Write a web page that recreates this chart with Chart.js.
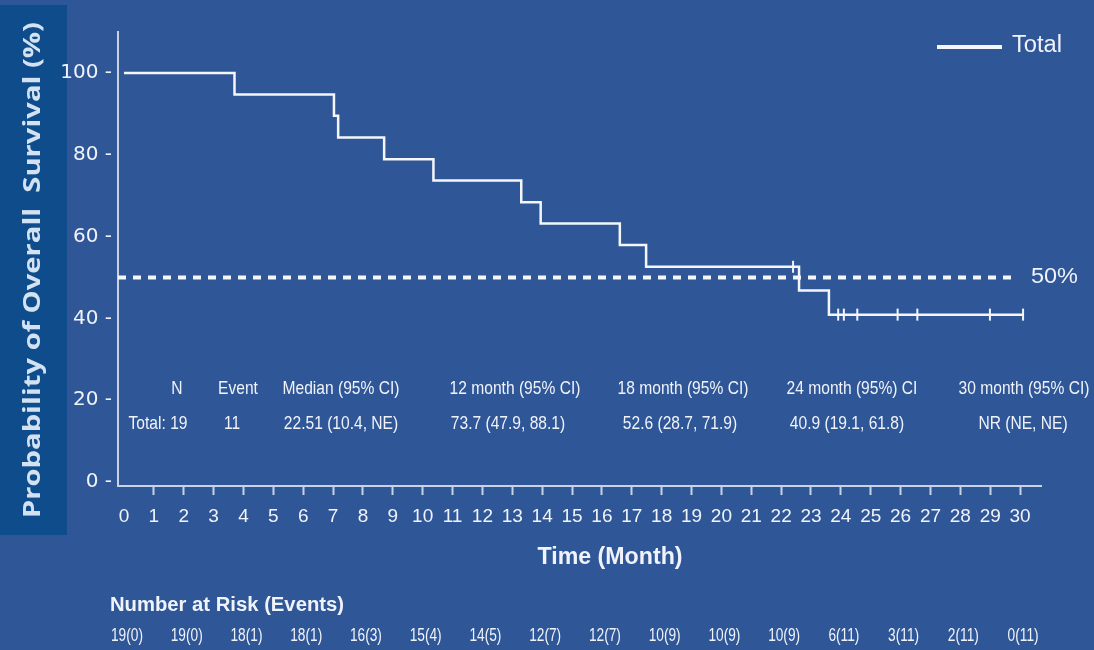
<!DOCTYPE html>
<html><head><meta charset="utf-8">
<script src="https://cdn.jsdelivr.net/npm/chart.js@4"></script>
<style>html,body{margin:0;padding:0;background:#2f5697;overflow:hidden}#wrap{width:1094px;height:650px;position:relative}</style>
</head><body><div id="wrap"><canvas id="c" width="1094" height="650"></canvas></div>
<script>
// ---- data ----
const eventTimes = [0, 3.7, 7.03, 7.17, 8.71, 10.36, 13.30, 13.95, 16.6, 17.48, 22.6, 23.6, 30.1];
const survival   = [100, 94.7, 89.5, 84.2, 78.9, 73.7, 68.4, 63.2, 57.9, 52.6, 46.8, 40.9, 40.9];
const censorTimes = [22.4, 23.91, 24.1, 24.55, 25.9, 26.56, 28.99, 30.1];
const censorSurv  = [52.6, 40.9, 40.9, 40.9, 40.9, 40.9, 40.9, 40.9];
const refLineX = [-0.2, 29.9];
const refLineY = [50, 50];
const refLabel = "50%";
const xTicks = [0,1,2,3,4,5,6,7,8,9,10,11,12,13,14,15,16,17,18,19,20,21,22,23,24,25,26,27,28,29,30];
const yTicks = [0,20,40,60,80,100];
const riskMonths = [0,2,4,6,8,10,12,14,16,18,20,22,24,26,28,30];
const riskLabels = ["19(0)","19(0)","18(1)","18(1)","16(3)","15(4)","14(5)","12(7)","12(7)","10(9)","10(9)","10(9)","6(11)","3(11)","2(11)","0(11)"];
const tableHeaders = ["N","Event","Median (95% CI)","12 month (95% CI)","18 month (95% CI)","24 month (95%) CI","30 month (95% CI)"];
const tableValues  = ["Total: 19","11","22.51 (10.4, NE)","73.7 (47.9, 88.1)","52.6 (28.7, 71.9)","40.9 (19.1, 61.8)","NR (NE, NE)"];
const seriesName = "Total";
const yTitle = "Probability of Overall  Survival (%)";
const xTitle = "Time (Month)";
const riskTitle = "Number at Risk (Events)";

// ---- styles / layout ----
const TXT = '#f0f3f9';
const AXIS = '#c9d3e6';
const LINE = '#f4f6fa';
const headerX = [177, 238, 341, 515, 683, 852, 1024];
const valueX  = [158, 232, 341, 508, 680, 847, 1023];

function fitScale(ctx, font, s, w){ ctx.save(); ctx.font = font; const m = ctx.measureText(s).width; ctx.restore(); return w / m; }
function txt(ctx, s, x, y, font, align, sx, color){
  ctx.save(); ctx.font = font; ctx.fillStyle = color || TXT; ctx.textBaseline = 'middle';
  ctx.translate(x, y); ctx.scale(sx, 1); ctx.textAlign = align; ctx.fillText(s, 0, 0); ctx.restore();
}

const deco = {
  id: 'deco',
  beforeDraw(chart){
    const ctx = chart.ctx;
    ctx.save();
    ctx.fillStyle = '#2f5697'; ctx.fillRect(0,0,chart.width,chart.height);
    ctx.fillStyle = '#0e4c8c'; ctx.fillRect(0,5,67,530);
    const f = 'bold 24px "Open Sans"';
    const sx = fitScale(ctx, f, yTitle, 496);
    ctx.translate(33, 270); ctx.rotate(-Math.PI/2);
    txt(ctx, yTitle, 0, 0, f, 'center', sx, '#d3e2f2');
    ctx.restore();
  },
  afterDraw(chart){
    const ctx = chart.ctx;
    const xs = chart.scales.x, ys = chart.scales.y;
    ctx.save(); ctx.strokeStyle = LINE; ctx.lineWidth = 4;
    ctx.beginPath(); ctx.moveTo(937,47); ctx.lineTo(1002,47); ctx.stroke(); ctx.restore();
    let f = '23px "Liberation Sans"';
    txt(ctx, seriesName, 1012, 46, f, 'left', fitScale(ctx, f, seriesName, 50));
    f = '22px "Liberation Sans"';
    txt(ctx, refLabel, 1031, ys.getPixelForValue(refLineY[1]), f, 'left', fitScale(ctx, f, refLabel, 47));
    f = '19px "Liberation Sans"';
    const ts = fitScale(ctx, f, "Median (95% CI)", 117);
    tableHeaders.forEach((s,i)=>txt(ctx, s, headerX[i], 389, f, 'center', ts));
    tableValues.forEach((s,i)=>txt(ctx, s, valueX[i], 424, f, 'center', ts));
    f = 'bold 24px "Liberation Sans"';
    txt(ctx, xTitle, 610, 557, f, 'center', fitScale(ctx, f, xTitle, 145));
    f = 'bold 20px "Liberation Sans"';
    txt(ctx, riskTitle, 110, 605, f, 'left', fitScale(ctx, f, riskTitle, 234));
    f = '18px "Liberation Sans"';
    const rs = fitScale(ctx, f, "19(0)", 32);
    riskMonths.forEach((m,i)=>txt(ctx, riskLabels[i], xs.getPixelForValue(m)+3, 636, f, 'center', rs));
  }
};

const kmData = eventTimes.map((t,i)=>({x:t, y:survival[i]}));
const censData = censorTimes.map((t,i)=>({x:t, y:censorSurv[i]}));
const refData = refLineX.map((t,i)=>({x:t, y:refLineY[i]}));

new Chart(document.getElementById('c'), {
  type: 'line',
  data: { datasets: [
    { label: 'ref', data: refData, borderColor: LINE, borderWidth: 4, borderDash: [8,7], pointRadius: 0, fill: false },
    { label: seriesName, data: kmData, borderColor: LINE, borderWidth: 2.5, stepped: 'before', pointRadius: 0, fill: false },
    { label: 'censor', data: censData, showLine: false, pointStyle: 'line', rotation: 90, pointRadius: 6, pointBorderWidth: 2, pointBorderColor: LINE, borderColor: LINE }
  ]},
  options: {
    responsive: false, animation: false, devicePixelRatio: 1,
    layout: { padding: { top: 32, right: 53, left: 0, bottom: 0 } },
    plugins: { legend: { display: false }, tooltip: { enabled: false }, title: { display: false } },
    scales: {
      x: { type: 'linear', min: -0.2, max: 30.7,
        afterBuildTicks: s => { s.ticks = xTicks.map(v=>({value:v})); },
        afterFit: s => { s.height = 164; },
        grid: { drawOnChartArea: false, tickLength: 9, tickWidth: 2, tickColor: c => (c.tick && c.tick.value === 0) ? 'rgba(0,0,0,0)' : AXIS },
        border: { color: AXIS, width: 2 },
        ticks: { color: TXT, font: { family: 'Liberation Sans', size: 19 }, padding: 10, maxRotation: 0, autoSkip: false }
      },
      y: { min: -1, max: 110,
        afterBuildTicks: s => { s.ticks = yTicks.map(v=>({value:v})); },
        afterFit: s => { s.width = 118; },
        grid: { drawOnChartArea: false, drawTicks: false },
        border: { color: AXIS, width: 2 },
        ticks: { color: TXT, font: { family: 'DejaVu Sans', size: 20 }, padding: 6, callback: v => v + ' -' }
      }
    }
  },
  plugins: [deco]
});
</script></body></html>
